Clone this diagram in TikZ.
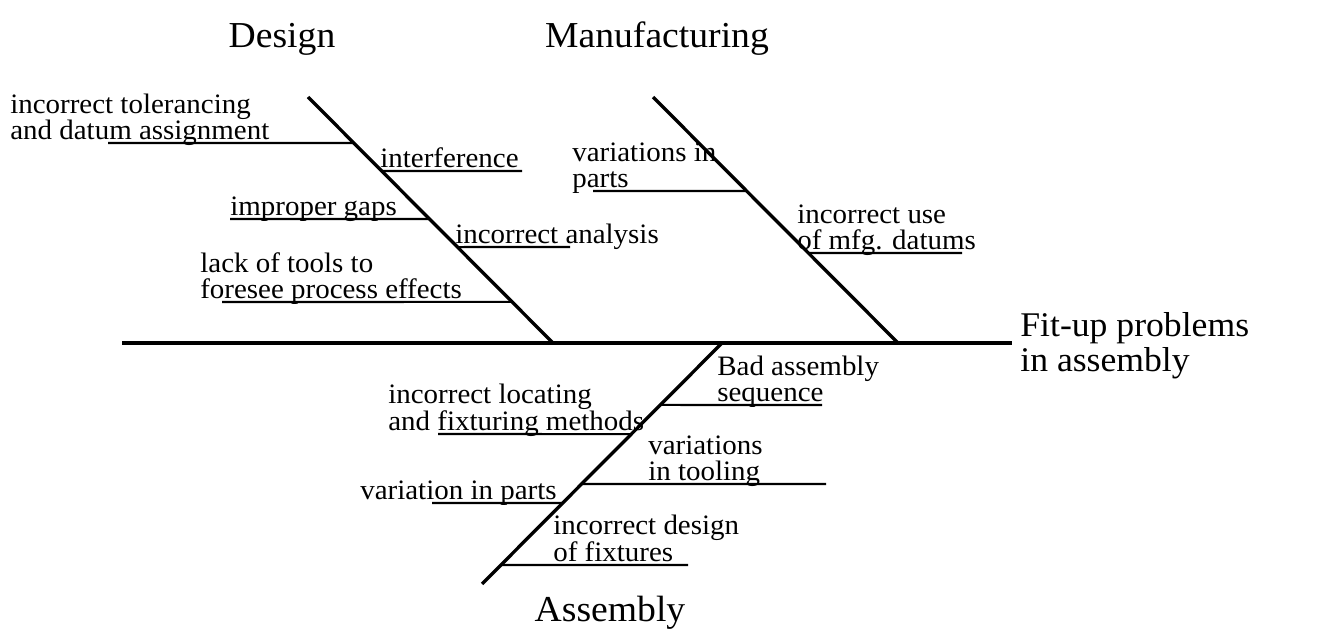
\documentclass[tikz,border=0pt]{standalone}
\usepackage{fontspec}
\setmainfont{Liberation Serif}[FakeStretch=1.03]
\usetikzlibrary{calc}

\begin{document}
\begin{tikzpicture}[x=0.02cm, y=-0.02cm,
        bone/.style={line width=1.9pt},
        twig/.style={line width=1.2pt},
        lbl/.style={inner sep=0pt, text depth=0pt, align=left, anchor=south west,
          font=\fontsize{16}{14.6}\selectfont},
        cat/.style={inner sep=0pt, anchor=base, font=\fontsize{20.8}{20}\selectfont},
        head/.style={inner sep=0pt, text depth=0pt, align=left, anchor=south west,
          font=\fontsize{19.7}{20}\selectfont}
      ]
        \useasboundingbox (0,0) rectangle (1317,641);
        % spine and the three bones
        \coordinate (tail) at (122,343);
        \coordinate (nose) at (1012,343);
        \coordinate (dtop) at (308,97);
        \coordinate (dbot) at (553,343);
        \coordinate (mtop) at (653,97);
        \coordinate (mbot) at (898,343);
        \coordinate (atop) at (722,343);
        \coordinate (abot) at (482,584);
        \draw[bone] (tail) -- (nose);
        \draw[bone] (dtop) -- (dbot);
        \draw[bone] (mtop) -- (mbot);
        \draw[bone] (atop) -- (abot);
        % categories and effect
        \node[cat] (design) at (282,48) {Design};
        \node[cat] (mfg) at (657,48) {Manufacturing};
        \node[cat] (asm) at (610,621) {Assembly};
        \node[head] (effect) at (1020,372) {Fit-up problems\\in assembly};
        % design causes
        \coordinate (d1) at ($(dtop)!0.187!(dbot)$);
        \coordinate (d2) at ($(dtop)!0.301!(dbot)$);
        \coordinate (d3) at ($(dtop)!0.496!(dbot)$);
        \coordinate (d4) at ($(dtop)!0.610!(dbot)$);
        \coordinate (d5) at ($(dtop)!0.833!(dbot)$);
        \coordinate (d1e) at (108,143);
        \coordinate (d2e) at (522,171);
        \coordinate (d3e) at (230,219);
        \coordinate (d4e) at (570,247);
        \coordinate (d5e) at (222,302);
        \draw[twig] (d1e) -- (d1);
        \draw[twig] (d2) -- (d2e);
        \draw[twig] (d3e) -- (d3);
        \draw[twig] (d4) -- (d4e);
        \draw[twig] (d5e) -- (d5);
        \node[lbl] (tol) at (10,140) {incorrect tolerancing\\and datum assignment};
        \node[lbl] (intf) at (380,168) {interference};
        \node[lbl] (gaps) at (230,216) {improper gaps};
        \node[lbl] (anal) at (455,244) {incorrect analysis};
        \node[lbl] (tools) at (200,299) {lack of tools to\\foresee process effects};
        % manufacturing causes
        \coordinate (m1) at ($(mtop)!0.382!(mbot)$);
        \coordinate (m2) at ($(mtop)!0.634!(mbot)$);
        \coordinate (m1e) at (593,191);
        \coordinate (m2e) at (962,253);
        \draw[twig] (m1e) -- (m1);
        \draw[twig] (m2) -- (m2e);
        \node[lbl] (mparts) at (572,188) {variations in\\parts};
        \node[lbl] (datums) at (797,250) {incorrect use\\of mfg. datums};
        % assembly causes
        \coordinate (a1) at ($(atop)!0.257!(abot)$);
        \coordinate (a2) at ($(atop)!0.378!(abot)$);
        \coordinate (a3) at ($(atop)!0.585!(abot)$);
        \coordinate (a4) at ($(atop)!0.664!(abot)$);
        \coordinate (a5) at ($(atop)!0.921!(abot)$);
        \coordinate (a1e) at (822,405);
        \coordinate (a2e) at (438,434);
        \coordinate (a3e) at (826,484);
        \coordinate (a4e) at (432,503);
        \coordinate (a5e) at (688,565);
        \draw[twig] (a1) -- (a1e);
        \draw[twig] (a2e) -- (a2);
        \draw[twig] (a3) -- (a3e);
        \draw[twig] (a4e) -- (a4);
        \draw[twig] (a5) -- (a5e);
        \node[lbl] (seq) at (717,402) {Bad assembly\\sequence};
        \node[lbl] (fixt) at (388,431) {incorrect locating\\and fixturing methods};
        \node[lbl] (tool) at (648,481) {variations\\in tooling};
        \node[lbl] (aparts) at (360,500) {variation in parts};
        \node[lbl] (fixd) at (553,562) {incorrect design\\of fixtures};
      \end{tikzpicture}
\end{document}
